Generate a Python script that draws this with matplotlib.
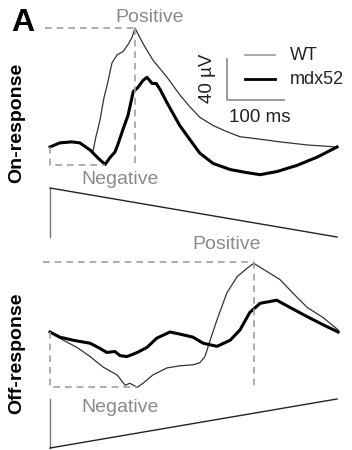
import matplotlib
matplotlib.use("Agg")
import matplotlib.pyplot as plt

plt.rcParams['font.family'] = ['Liberation Sans', 'DejaVu Sans']

# on-response traces (time in ms, amplitude in uV)
on_t_wt = [0, 17, 38, 52, 66, 75, 80, 87, 94, 99, 108, 117, 127, 136, 143, 148,
           162, 179, 204, 226, 244, 261, 284, 308, 331, 361, 401, 448, 500]
on_v_wt = [0, 4, 5, 4, -1, -4, 10, 26, 48, 59, 82, 90, 93, 100, 107, 116,
           101, 85, 68, 51, 39, 29, 21, 15, 10, 8, 5, 2, 0]
on_t_mdx = [0, 17, 38, 52, 70, 84, 96, 105, 113, 118, 127, 136, 145, 153, 162, 169,
            178, 185, 192, 204, 214, 226, 244, 261, 284, 314, 343, 366, 395, 430, 465, 500]
on_v_mdx = [0, 4, 5, 4, -3, -11, -17, -10, -5, 2, 17, 31, 54, 58, 65, 68,
            62, 62, 56, 43, 33, 21, 7, -6, -16, -22, -25, -27, -24, -18, -10, 0]

# off-response traces
off_t_wt = [0, 23, 47, 70, 92, 117, 131, 139, 152, 162, 179, 204, 226, 249, 261, 270,
            279, 291, 308, 326, 343, 355, 378, 401, 423, 448, 476, 502]
off_v_wt = [0, -8, -15, -24, -34, -42, -52, -50, -54, -50, -42, -35, -33, -32, -30, -24,
            -8, 12, 38, 54, 62, 67, 59, 51, 38, 24, 14, 2]
off_t_mdx = [0, 17, 40, 70, 87, 99, 113, 122, 134, 152, 169, 186, 209, 226, 249, 267,
             291, 314, 331, 348, 366, 395, 418, 448, 476, 502]
off_v_mdx = [0, -5, -8, -11, -16, -20, -19, -23, -24, -20, -15, -6, 0, -2, -5, -11,
             -14, -8, 2, 19, 28, 31, 24, 15, 7, 0]

# peak / trough markers
on_pos = (148, 116)
on_neg = (96, -18)
off_pos = (355, 68)
off_neg = (152, -54)

# light stimulus (relative intensity)
stim_t = [0, 0, 500]
on_stim = [0, 1, 0]
off_stim = [1, 0, 1]

W, H = 352, 450
px_ms = 0.574
px_uv = 1.025
x0 = 50

fig = plt.figure(figsize=(W / 100, H / 100), dpi=100)
xlim = (-x0 / px_ms, (W - x0) / px_ms)


def make_ax(top, bottom, base_y=None):
    ax = fig.add_axes([0, 1 - bottom / H, 1, (bottom - top) / H])
    ax.set_xlim(*xlim)
    if base_y is not None:
        ax.set_ylim((base_y - bottom) / px_uv, (base_y - top) / px_uv)
    ax.axis('off')
    return ax


def ptext(x, y, s, **kw):
    fig.text(x / W, 1 - y / H, s, ha='center', va='center', **kw)


gray = '#8a8a8a'
dash = dict(color='#a0a0a0', lw=1.2, dashes=(4, 3))

# on panel
ax1 = make_ax(0, 240, base_y=147)
ax1.plot(on_t_wt, on_v_wt, color='#333333', lw=0.9)
ax1.plot(on_t_mdx, on_v_mdx, color='black', lw=2.2)
ax1.plot([-9, on_pos[0]], [on_pos[1], on_pos[1]], **dash)
ax1.plot([on_pos[0], on_pos[0]], [on_pos[1], on_neg[1]], **dash)
ax1.plot([0, 0, on_neg[0]], [0, on_neg[1], on_neg[1]], **dash)
# scale bar + legend
ax1.plot([308, 308, 408], [86, 46, 46], color=gray, lw=1.2)
ax1.plot([340, 392], [90, 90], color='#999999', lw=1.2)
ax1.plot([340, 392], [66, 66], color='black', lw=2.0)

ax1s = make_ax(188, 237)
ax1s.set_ylim(0, 1)
ax1s.plot(stim_t[:2], on_stim[:2], color='#777777', lw=1, clip_on=False)
ax1s.plot(stim_t[1:], on_stim[1:], color='#222222', lw=1, clip_on=False)

# off panel
ax2 = make_ax(240, 450, base_y=332)
ax2.plot(off_t_wt, off_v_wt, color='#333333', lw=0.9)
ax2.plot(off_t_mdx, off_v_mdx, color='black', lw=2.2)
ax2.plot([-12, off_pos[0]], [off_pos[1], off_pos[1]], **dash)
ax2.plot([off_pos[0], off_pos[0]], [off_pos[1], -57], **dash)
ax2.plot([0, 0, off_neg[0]], [0, off_neg[1], off_neg[1]], **dash)

ax2s = make_ax(399, 448)
ax2s.set_ylim(0, 1)
ax2s.plot(stim_t[:2], off_stim[:2], color='#777777', lw=1, clip_on=False)
ax2s.plot(stim_t[1:], off_stim[1:], color='#222222', lw=1, clip_on=False)

# texts
ptext(23, 23, 'A', fontsize=23, fontweight='bold')
ptext(17, 123, 'On-response', fontsize=14, fontweight='bold', rotation=90)
ptext(17, 353, 'Off-response', fontsize=14, fontweight='bold', rotation=90)
ptext(150, 18, 'Positive', fontsize=14, color=gray)
ptext(120, 180, 'Negative', fontsize=14, color=gray)
ptext(227, 245, 'Positive', fontsize=14, color=gray)
ptext(120, 407, 'Negative', fontsize=14, color=gray)
ptext(208, 78, '40 µV', fontsize=13.5, rotation=90, color='#222222')
ptext(260, 118, '100 ms', fontsize=13.5, color='#222222')
fig.text(290 / W, 1 - 56 / H, 'WT', fontsize=13, va='center', color='#222222')
fig.text(290 / W, 1 - 80 / H, 'mdx52', fontsize=13, va='center', color='#222222')

fig.savefig('out.png', dpi=100)
